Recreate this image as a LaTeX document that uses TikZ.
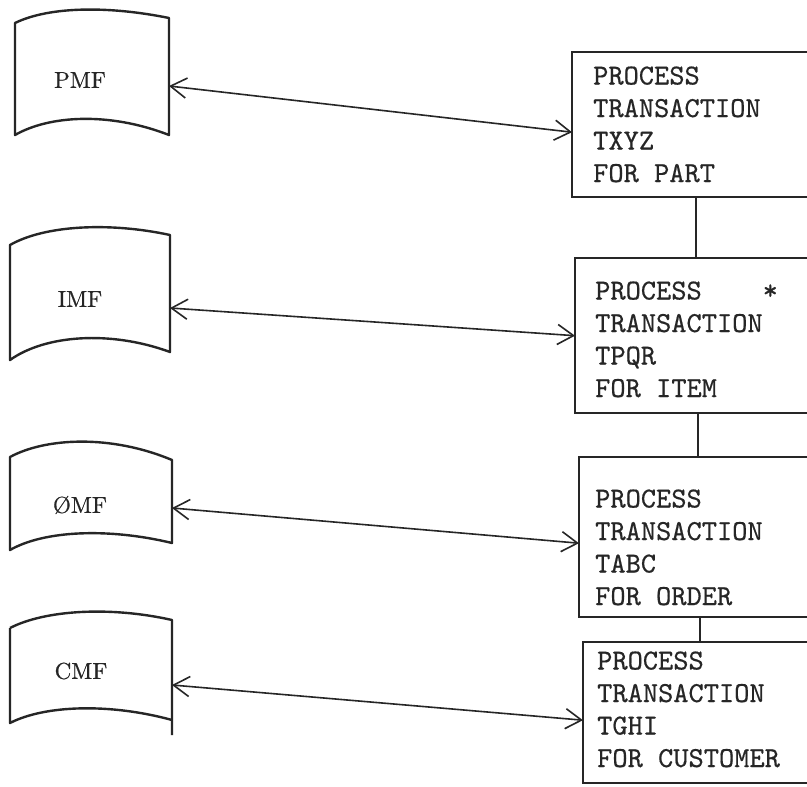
\documentclass[tikz,border=0pt]{standalone}
\usepackage{fontspec}
\newfontfamily\typer{lmmono10-regular.otf}[FakeBold=0.5]
\newfontfamily\labelfont{lmroman10-regular.otf}[FakeBold=0.6]
\usetikzlibrary{arrows.meta}
\definecolor{ink}{RGB}{38,38,38}
\begin{document}
\begin{tikzpicture}[x=1pt,y=-1pt,
  sheet/.style={draw=ink,line width=2.4pt,line join=round},
  filelabel/.style={text=ink,font=\labelfont\fontsize{23}{25}\selectfont,inner sep=0pt},
  procbox/.style={draw=none,rectangle,inner sep=0pt,anchor=north west},
  boxline/.style={draw=ink,line width=2pt},
  proctext/.style={text=ink,align=left,anchor=base west,inner sep=0pt,
    font=\typer\fontsize{29}{32.5}\selectfont},
  link/.style={draw=ink,line width=1.6pt,{Straight Barb[length=16pt,width=20pt]}-{Straight Barb[length=16pt,width=20pt]}},
  joint/.style={draw=ink,line width=2pt}]
\useasboundingbox (0,0) rectangle (807,787);
\clip (0,0) rectangle (807,787);
\fill[white] (0,0) rectangle (807,787);

% master files (sheet symbols)
\draw[sheet] (15,23) -- (15,135) .. controls (50,115) and (110,112) .. (169,135)
  -- (169,18) .. controls (110,6) and (50,6) .. (15,23) -- cycle;
\draw[sheet] (10,245) -- (10,360) .. controls (45,335) and (110,330) .. (170,352)
  -- (170,235) .. controls (110,222) and (45,225) .. (10,245) -- cycle;
\draw[sheet] (10,457) -- (10,550) .. controls (45,530) and (110,528) .. (172,543)
  -- (172,460) .. controls (110,434) and (45,438) .. (10,457) -- cycle;
\draw[sheet] (10,628) -- (10,723) .. controls (45,705) and (110,703) .. (172,720);
\draw[sheet] (172,735) -- (172,620) .. controls (110,606) and (45,610) .. (10,628);

\node[filelabel] (pmf) at (80,80) {PMF};
\node[filelabel] (imf) at (80,299) {IMF};
\node[filelabel] (omf) at (80,505) {\O MF};
\node[filelabel] (cmf) at (81,671) {CMF};

\coordinate (pmfR) at (169,86);
\coordinate (imfR) at (170,308);
\coordinate (omfR) at (172,508);
\coordinate (cmfR) at (172,685);

% transaction boxes (right side runs off the sheet)
\node[procbox,minimum width=248pt,minimum height=145pt] (b1) at (572,52) {};
\node[procbox,minimum width=245pt,minimum height=155pt] (b2) at (575,258) {};
\node[procbox,minimum width=241pt,minimum height=160pt] (b3) at (579,457) {};
\node[procbox,minimum width=237pt,minimum height=141pt] (b4) at (583,642) {};

\foreach \b in {b1,b2,b3,b4}
  \draw[boxline] (\b.north east) -- (\b.north west) -- (\b.south west) -- (\b.south east);

% box texts, anchored on the baseline of their last line
\node[proctext] (t1) at (593,182) {PROCESS\\TRANSACTION\\TXYZ\\FOR PART};
\node[proctext] (t2) at (595,397) {PROCESS\ \ \ \ *\\TRANSACTION\\TPQR\\FOR ITEM};
\node[proctext] (t3) at (595,605) {PROCESS\\TRANSACTION\\TABC\\FOR ORDER};
\node[proctext] (t4) at (597,767) {PROCESS\\TRANSACTION\\TGHI\\FOR CUSTOMER};

% links between the chain of boxes
\draw[joint] (b1.south) -- (b1.south |- b2.north);
\draw[joint] (b2.south) -- (b2.south |- b3.north);
\draw[joint] (b3.south) -- (b3.south |- b4.north);

% two-way access arrows
\draw[link] (pmfR) -- ([yshift=-7.5pt]b1.west);
\draw[link] (imfR) -- (b2.west);
\draw[link] (omfR) -- ([yshift=-6pt]b3.west);
\draw[link] (cmfR) -- ([yshift=-7.5pt]b4.west);
\end{tikzpicture}
\end{document}
